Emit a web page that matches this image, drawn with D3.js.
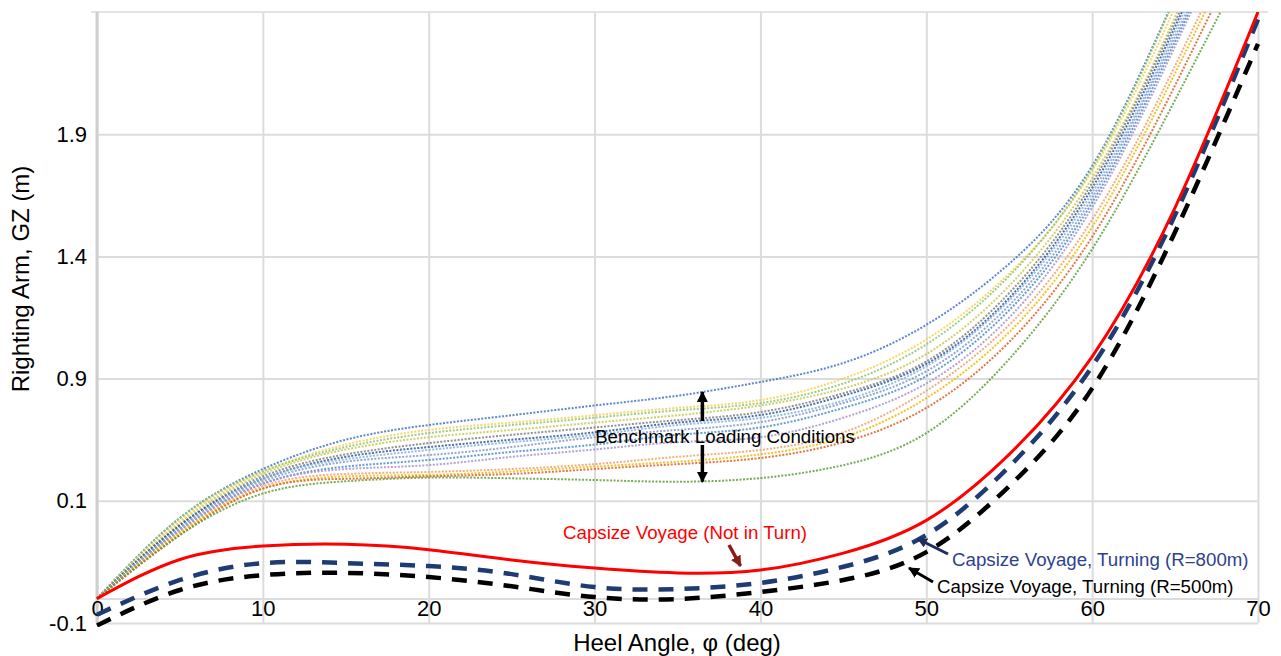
<!DOCTYPE html>
<html>
<head>
<meta charset="utf-8">
<script src="https://cdn.jsdelivr.net/npm/d3@7/dist/d3.min.js"></script>
<style>
body { margin: 0; background: #fff; }
text { font-family: "Liberation Sans", Arial, sans-serif; }
</style>
</head>
<body>
<svg id="chart" width="1281" height="656"></svg>
<script>
var angles = [0, 5, 10, 15, 20, 25, 30, 35, 40, 45, 50, 55, 60, 65, 70];

// benchmark loading conditions (dotted)
var benchColors = ["#4472c4", "#f5d050", "#8fc46e", "#c8c850", "#7f7f7f", "#2f5597", "#7fb2e0",
                   "#8497c8", "#4a8ccc", "#a493cc", "#f0a070", "#f2b800", "#d9602a", "#5f9e3a"];
var bench = [
    [0, .33, .53, .65, .71, .75, .79, .83, .886, .964, 1.12, 1.37, 1.77, 2.46, 3.2],
    [0, .32, .52, .63, .69, .72, .75, .78, .812, .90, 1.06, 1.33, 1.75, 2.42, 3.2],
    [0, .33, .52, .62, .677, .71, .74, .77, .80, .88, 1.04, 1.32, 1.76, 2.46, 3.3],
    [0, .31, .51, .61, .66, .69, .72, .75, .79, .86, 1.00, 1.28, 1.72, 2.38, 3.2],
    [0, .30, .50, .59, .636, .67, .70, .73, .763, .84, .97, 1.25, 1.70, 2.36, 3.1],
    [0, .30, .49, .58, .62, .65, .68, .72, .751, .83, .96, 1.23, 1.68, 2.34, 3.1],
    [0, .29, .49, .57, .608, .64, .67, .71, .739, .81, .95, 1.22, 1.66, 2.32, 3.1],
    [0, .29, .48, .56, .587, .62, .66, .69, .722, .80, .93, 1.20, 1.64, 2.30, 3.0],
    [0, .28, .47, .54, .567, .60, .63, .67, .70, .78, .91, 1.18, 1.62, 2.28, 3.0],
    [0, .28, .47, .53, .546, .58, .61, .64, .66, .74, .88, 1.15, 1.60, 2.26, 3.0],
    [0, .27, .46, .51, .518, .53, .55, .58, .608, .68, .85, 1.12, 1.55, 2.18, 2.9],
    [0, .27, .45, .50, .506, .52, .54, .56, .59, .66, .82, 1.09, 1.52, 2.15, 2.85],
    [0, .26, .45, .49, .50, .51, .53, .55, .575, .64, .78, 1.05, 1.48, 2.10, 2.8],
    [0, .26, .43, .48, .495, .492, .485, .478, .493, .546, .677, .98, 1.43, 2.04, 2.7]
];

// capsize voyage curves
var notInTurn = [0, .16, .215, .222, .20, .158, .125, .105, .117, .186, .32, .59, .99, 1.60, 2.40];
var turn800 = [-0.066, .076, .145, .145, .133, .10, .047, .039, .064, .13, .26, .54, .95, 1.57, 2.37];
var turn500 = [-0.11, .035, .096, .105, .088, .05, .006, -0.002, .027, .076, .19, .46, .86, 1.50, 2.27];

// axis ticks
var xTicks = [0, 10, 20, 30, 40, 50, 60, 70];
var yTicks = [-0.1, 0.4, 0.9, 1.4, 1.9];
var yTickLabels = ["-0.1", "0.1", "0.9", "1.4", "1.9"];

var svg = d3.select("#chart");
var pLeft = 97, pRight = 1258, pTop = 12, pBottom = 623;

var x = d3.scaleLinear().domain([0, 70]).range([pLeft, pRight]);
var y = d3.scaleLinear().domain([-0.1, 2.4]).range([pBottom, pTop]);

// grid
svg.append("g")
    .attr("transform", "translate(0," + pBottom + ")")
    .call(d3.axisBottom(x).tickValues(xTicks).tickSize(-(pBottom - pTop)).tickFormat(""))
    .call(function(g){
        g.select(".domain").remove();
        g.selectAll("line").attr("stroke", "#dcdcdc").attr("stroke-width", 2);
    });
svg.append("g")
    .attr("transform", "translate(" + pLeft + ",0)")
    .call(d3.axisLeft(y).tickValues(yTicks.concat([0])).tickSize(-(pRight - pLeft)).tickFormat(""))
    .call(function(g){
        g.select(".domain").remove();
        g.selectAll("line").attr("stroke", "#dcdcdc").attr("stroke-width", 2);
    });
svg.append("line")
    .attr("x1", pLeft - 6).attr("x2", pRight + 10)
    .attr("y1", pTop).attr("y2", pTop)
    .attr("stroke", "#e3e3e3").attr("stroke-width", 2);
svg.append("line")
    .attr("x1", pLeft).attr("x2", pLeft)
    .attr("y1", pTop).attr("y2", pBottom)
    .attr("stroke", "#cfcfcf").attr("stroke-width", 3);

// tick labels
svg.append("g")
    .attr("transform", "translate(0," + y(0) + ")")
    .call(d3.axisBottom(x).tickValues(xTicks).tickSize(0).tickPadding(2))
    .call(function(g){
        g.select(".domain").remove();
        g.selectAll("text").attr("font-size", 22).attr("fill", "#000")
            .attr("font-family", "Liberation Sans, Arial, sans-serif");
    });
svg.append("g")
    .attr("transform", "translate(" + (pLeft - 10) + ",0)")
    .call(d3.axisLeft(y).tickValues(yTicks).tickSize(0).tickPadding(0)
        .tickFormat(function(d, i){ return yTickLabels[i]; }))
    .call(function(g){
        g.select(".domain").remove();
        g.selectAll("text").attr("font-size", 22).attr("fill", "#000")
            .attr("font-family", "Liberation Sans, Arial, sans-serif");
    });

svg.append("text")
    .attr("x", 677).attr("y", 651)
    .attr("text-anchor", "middle").attr("font-size", 24)
    .text("Heel Angle, φ (deg)");
svg.append("text")
    .attr("transform", "translate(29,279) rotate(-90)")
    .attr("text-anchor", "middle").attr("font-size", 24)
    .text("Righting Arm, GZ (m)");

// clip the curves to the plot box
svg.append("clipPath").attr("id", "plotclip")
    .append("rect")
    .attr("x", pLeft - 2).attr("y", pTop)
    .attr("width", pRight - pLeft + 4).attr("height", pBottom - pTop + 4);

var line = d3.line()
    .x(function(d, i){ return x(angles[i]); })
    .y(function(d){ return y(d); })
    .curve(d3.curveNatural);

var curves = svg.append("g").attr("clip-path", "url(#plotclip)");

curves.selectAll("path.bench")
    .data(bench)
    .enter()
    .append("path")
    .attr("class", "bench")
    .attr("d", line)
    .attr("fill", "none")
    .attr("stroke", function(d, i){ return benchColors[i]; })
    .attr("stroke-width", 2)
    .attr("stroke-dasharray", "2,1.5")
    .attr("opacity", 0.85);

curves.append("path")
    .attr("d", line(turn500))
    .attr("fill", "none").attr("stroke", "#000")
    .attr("stroke-width", 4.5).attr("stroke-dasharray", "15,11");
curves.append("path")
    .attr("d", line(turn800))
    .attr("fill", "none").attr("stroke", "#1f3b73")
    .attr("stroke-width", 4.5).attr("stroke-dasharray", "15,11");
curves.append("path")
    .attr("d", line(notInTurn))
    .attr("fill", "none").attr("stroke", "#ff0000")
    .attr("stroke-width", 3);

// arrow heads
function addMarker(id, color, size)
{
    svg.append("defs").append("marker")
        .attr("id", id)
        .attr("viewBox", "0 0 10 10")
        .attr("refX", 9).attr("refY", 5)
        .attr("markerWidth", size).attr("markerHeight", size)
        .attr("markerUnits", "userSpaceOnUse")
        .attr("orient", "auto")
        .append("path")
        .attr("d", "M0,0L10,5L0,10Z")
        .attr("fill", color);
}
addMarker("arrBlack", "#000", 11);
addMarker("arrRed", "#8b1a1a", 11);
addMarker("arrBlue", "#1f2d5a", 10);

function arrow(x1, y1, x2, y2, color, w, marker)
{
    svg.append("line")
        .attr("x1", x1).attr("y1", y1)
        .attr("x2", x2).attr("y2", y2)
        .attr("stroke", color).attr("stroke-width", w)
        .attr("marker-end", "url(#" + marker + ")");
}

// benchmark annotation, arrows from text to envelope curves
arrow(x(36.5), 421, x(36.5), y(bench[0][7] + 0.015), "#000", 3.5, "arrBlack");
arrow(x(36.5), 445, x(36.5), y(bench[13][7]), "#000", 3.5, "arrBlack");
svg.append("text")
    .attr("x", 725).attr("y", 443)
    .attr("text-anchor", "middle").attr("font-size", 18.7)
    .text("Benchmark Loading Conditions");

svg.append("text")
    .attr("x", 563).attr("y", 539)
    .attr("font-size", 18.7).attr("fill", "#ff0000")
    .text("Capsize Voyage (Not in Turn)");
arrow(729, 545, x(38.8), y(notInTurn[8]) - 4, "#8b1a1a", 3.5, "arrRed");

svg.append("text")
    .attr("x", 952).attr("y", 566)
    .attr("font-size", 18.7).attr("fill", "#2e3f8f")
    .text("Capsize Voyage, Turning (R=800m)");
arrow(948, 554, 918, 539, "#1f2d5a", 3, "arrBlue");

svg.append("text")
    .attr("x", 937).attr("y", 593)
    .attr("font-size", 18.7).attr("fill", "#000")
    .text("Capsize Voyage, Turning (R=500m)");
arrow(933, 582, 909, 568, "#000", 3, "arrBlack");
</script>
</body>
</html>
